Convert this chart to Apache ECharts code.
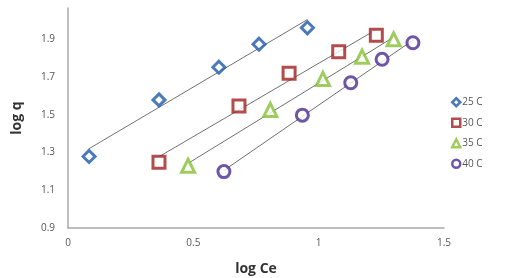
<!DOCTYPE html>
<html>
<head>
<meta charset="utf-8">
<script src="https://cdn.jsdelivr.net/npm/echarts@6/dist/echarts.min.js"></script>
<style>
html, body { margin: 0; padding: 0; background: #fff; }
#main { width: 506px; height: 278px; }
</style>
</head>
<body>
<div id="main"></div>
<script>
// 数据：log Ce / log q
var names = ['25 C', '30 C', '35 C', '40 C'];
var colors = ['#1d5aa6', '#a01f1f', '#86c036', '#4a2a92'];
var symbols = ['diamond', 'rect', 'triangle', 'circle'];

var x25 = [0.084, 0.363, 0.602, 0.762, 0.955];
var y25 = [1.279, 1.579, 1.752, 1.874, 1.961];
var x30 = [0.363, 0.682, 0.882, 1.080, 1.230];
var y30 = [1.249, 1.547, 1.720, 1.834, 1.921];
var x35 = [0.479, 0.807, 1.017, 1.173, 1.299];
var y35 = [1.230, 1.526, 1.690, 1.808, 1.900];
var x40 = [0.622, 0.935, 1.128, 1.253, 1.376];
var y40 = [1.199, 1.498, 1.670, 1.794, 1.882];

var xs = [x25, x30, x35, x40];
var ys = [y25, y30, y35, y40];

// 线性拟合（趋势线）
function fit(x, y) {
	var n = x.length, sx = 0, sy = 0, sxx = 0, sxy = 0;
	for (var i = 0; i < n; i++) {
		sx += x[i]; sy += y[i]; sxx += x[i] * x[i]; sxy += x[i] * y[i];
	}
	var b = (n * sxy - sx * sy) / (n * sxx - sx * sx);
	var a = (sy - b * sx) / n;
	var x0 = Math.min.apply(null, x), x1 = Math.max.apply(null, x);
	return [[x0, a + b * x0], [x1, a + b * x1]];
}

var series = [];
for (var k = 0; k < names.length; k++) {
	series.push({
		name: 'trend' + k,
		type: 'line',
		data: fit(xs[k], ys[k]),
		symbol: 'none',
		silent: true,
		lineStyle: { color: '#707070', width: 1 },
		z: 1
	});
}
for (var k = 0; k < names.length; k++) {
	var pts = xs[k].map(function (v, i) { return [v, ys[k][i]]; });
	series.push({
		name: names[k],
		type: 'scatter',
		data: pts,
		symbol: symbols[k],
		symbolSize: k === 2 ? 13 : 12,
		itemStyle: { color: '#fff', borderColor: colors[k], borderWidth: 3 },
		z: 3
	});
}

var myChart = echarts.init(document.getElementById('main'));
var option = {
	animation: false,
	textStyle: { fontFamily: 'Open Sans' },
	grid: { left: 68, right: 62, top: 8, bottom: 50, containLabel: false, outerBoundsMode: 'none' },
	legend: {
		data: names,
		orient: 'vertical',
		left: 446,
		top: 92,
		itemWidth: 8,
		itemHeight: 8,
		itemGap: 10,
		itemStyle: { borderWidth: 2.5 },
		textStyle: { fontSize: 10, color: '#555', padding: [0, 0, 0, -3] }
	},
	xAxis: {
		type: 'value',
		min: 0, max: 1.5, interval: 0.5,
		name: 'log Ce',
		nameLocation: 'middle',
		nameGap: 34,
		nameTextStyle: { fontSize: 14, color: '#333', fontWeight: 'bold' },
		axisLine: { lineStyle: { color: '#a8a8a8', width: 1.5 } },
		axisTick: { show: false },
		splitLine: { show: false },
		axisLabel: { fontSize: 10, color: '#555', margin: 10 }
	},
	yAxis: {
		type: 'value',
		min: 0.9, max: 2.066, interval: 0.2,
		name: 'log q',
		nameLocation: 'middle',
		nameGap: 44,
		nameRotate: 90,
		nameTextStyle: { fontSize: 14, color: '#333', fontWeight: 'bold' },
		axisLine: { show: true, lineStyle: { color: '#a8a8a8', width: 1.5 } },
		axisTick: { show: false },
		splitLine: { show: false },
		axisLabel: { fontSize: 10, color: '#555', margin: 13, showMaxLabel: false,
			formatter: function (v) { return v.toFixed(1); } }
	},
	series: series
};
myChart.setOption(option);
</script>
</body>
</html>
